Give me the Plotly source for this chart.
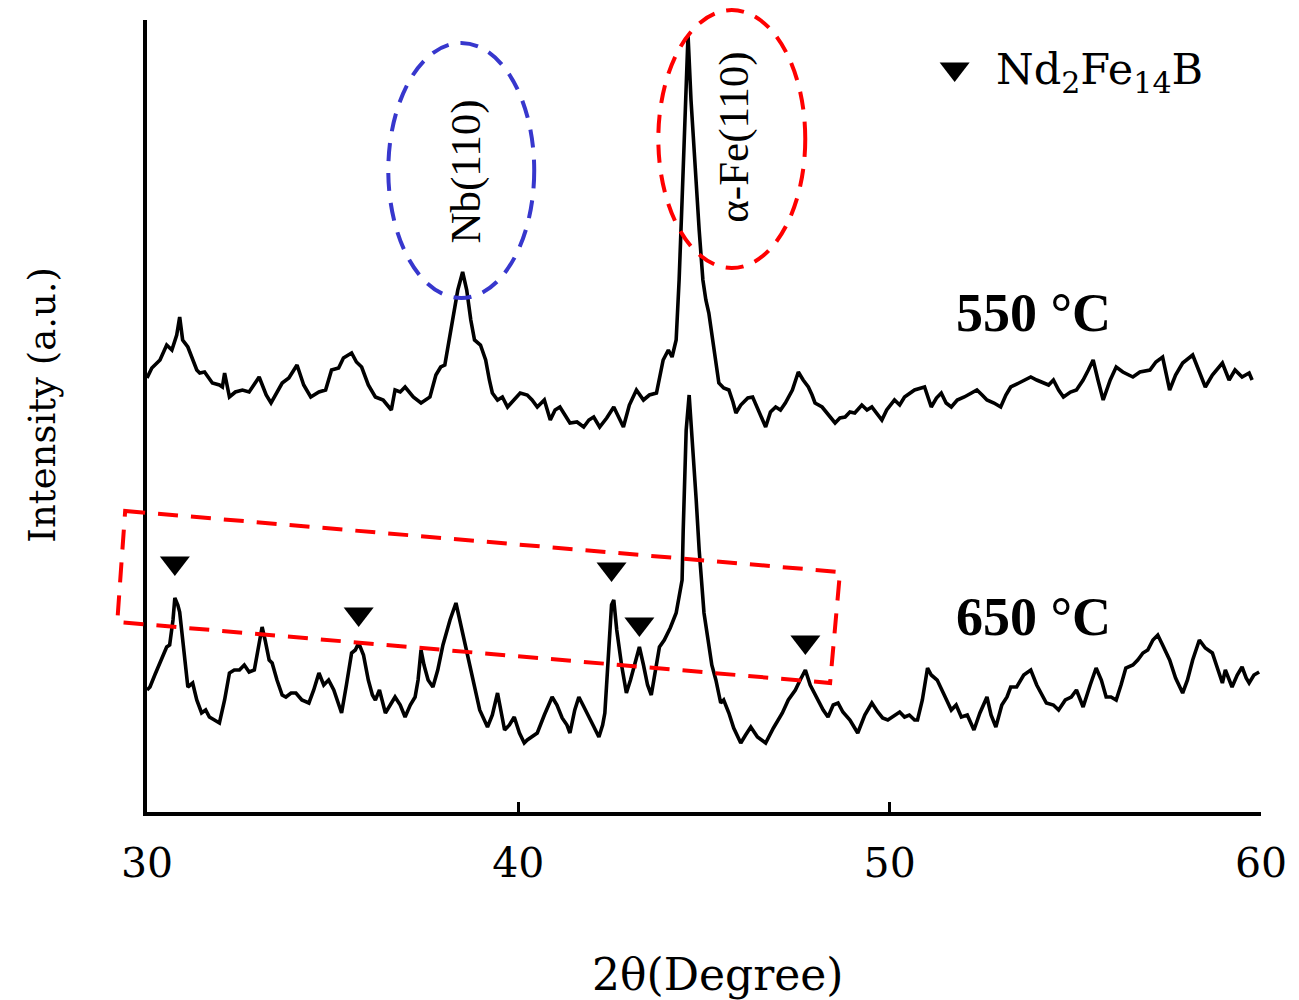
import plotly.graph_objects as go

# ---------------- data ----------------
two_theta_550 = [30.00, 30.13, 30.35, 30.53, 30.67, 30.80, 30.88, 30.96, 31.10, 31.23, 31.34, 31.42, 31.55, 31.76, 31.95,
                 32.03, 32.09, 32.22, 32.38, 32.57, 32.75, 33.02, 33.21, 33.34, 33.50, 33.64, 33.82, 34.04, 34.22, 34.41,
                 34.63, 34.81, 34.97, 35.16, 35.29, 35.51, 35.64, 35.78, 35.96, 36.15, 36.36, 36.58, 36.68, 36.82, 36.95,
                 37.17, 37.38, 37.62, 37.78, 37.91, 38.02, 38.10, 38.24, 38.37, 38.50, 38.61, 38.72, 38.82, 38.98, 39.12,
                 39.22, 39.30, 39.44, 39.57, 39.71, 39.89, 40.05, 40.24, 40.37, 40.51, 40.70, 40.86, 40.99, 41.12, 41.26,
                 41.39, 41.58, 41.76, 41.90, 42.03, 42.19, 42.38, 42.57, 42.70, 42.83, 42.99, 43.18, 43.37, 43.53, 43.72,
                 43.82, 43.90, 44.04, 44.14, 44.25, 44.33, 44.41, 44.49, 44.57, 44.65, 44.76, 44.87, 44.97, 45.05, 45.13,
                 45.24, 45.32, 45.40, 45.53, 45.67, 45.78, 45.86, 45.99, 46.18, 46.31, 46.47, 46.66, 46.79, 46.93, 47.06,
                 47.19, 47.38, 47.54, 47.67, 47.81, 47.91, 47.99, 48.18, 48.34, 48.53, 48.66, 48.80, 48.93, 49.06, 49.25,
                 49.39, 49.52, 49.65, 49.79, 49.92, 50.13, 50.27, 50.40, 50.67, 50.94, 51.12, 51.26, 51.39, 51.52, 51.66,
                 51.82, 52.01, 52.19, 52.35, 52.49, 52.62, 52.81, 52.99, 53.13, 53.26, 53.48, 53.80, 53.96, 54.14, 54.28,
                 54.41, 54.55, 54.68, 54.87, 55.03, 55.21, 55.35, 55.48, 55.61, 55.75, 55.94, 56.10, 56.28, 56.55, 56.74,
                 57.01, 57.17, 57.35, 57.54, 57.70, 57.89, 58.16, 58.32, 58.50, 58.69, 58.96, 59.14, 59.30, 59.49, 59.68,
                 59.76]
intensity_550 = [434, 444, 452, 467, 462, 477, 495, 472, 465, 452, 442, 439, 440, 429, 427,
                 425, 439, 415, 420, 422, 420, 435, 417, 409, 420, 429, 434, 447, 427, 415,
                 420, 422, 442, 444, 454, 459, 450, 445, 427, 415, 412, 402, 422, 420, 425,
                 415, 409, 415, 437, 445, 447, 465, 492, 522, 540, 522, 492, 472, 467, 452,
                 432, 419, 412, 415, 405, 412, 419, 417, 412, 405, 412, 392, 402, 405, 397,
                 389, 390, 385, 392, 395, 385, 394, 405, 394, 385, 407, 422, 412, 417, 419,
                 437, 452, 462, 455, 472, 532, 612, 702, 777, 712, 642, 582, 532, 512, 499,
                 472, 449, 429, 424, 422, 410, 399, 407, 414, 415, 402, 385, 400, 405, 402,
                 409, 422, 440, 432, 425, 417, 409, 405, 397, 389, 394, 395, 400, 399, 407,
                 402, 405, 399, 392, 402, 412, 407, 415, 422, 425, 405, 414, 419, 409, 405,
                 412, 415, 419, 422, 417, 412, 409, 405, 417, 425, 429, 435, 432, 429, 427,
                 432, 422, 415, 420, 422, 432, 442, 452, 432, 412, 432, 445, 440, 435, 440,
                 442, 450, 455, 422, 437, 449, 457, 442, 425, 437, 449, 432, 442, 435, 439,
                 432]

two_theta_650 = [30.00, 30.08, 30.21, 30.35, 30.53, 30.61, 30.70, 30.75, 30.83, 30.88, 30.99, 31.10, 31.23, 31.34, 31.47,
                 31.58, 31.68, 31.82, 31.95, 32.09, 32.22, 32.35, 32.49, 32.62, 32.75, 32.89, 33.02, 33.10, 33.18, 33.29,
                 33.37, 33.50, 33.64, 33.74, 33.88, 34.01, 34.17, 34.36, 34.49, 34.63, 34.76, 34.89, 35.03, 35.24, 35.37,
                 35.51, 35.61, 35.70, 35.83, 35.96, 36.07, 36.15, 36.26, 36.42, 36.55, 36.68, 36.82, 36.95, 37.09, 37.22,
                 37.30, 37.38, 37.46, 37.57, 37.70, 37.83, 37.97, 38.16, 38.32, 38.45, 38.64, 38.80, 38.96, 39.17, 39.30,
                 39.44, 39.52, 39.63, 39.76, 39.89, 40.03, 40.16, 40.24, 40.37, 40.51, 40.70, 40.91, 41.04, 41.18, 41.31,
                 41.39, 41.52, 41.63, 41.74, 41.84, 42.01, 42.17, 42.27, 42.33, 42.43, 42.51, 42.57, 42.65, 42.78, 42.91,
                 43.02, 43.16, 43.26, 43.37, 43.48, 43.58, 43.69, 43.80, 43.93, 44.09, 44.25, 44.33, 44.41, 44.44, 44.47,
                 44.52, 44.60, 44.65, 44.73, 44.79, 44.87, 44.95, 45.00, 45.11, 45.21, 45.32, 45.45, 45.53, 45.67, 45.80,
                 45.99, 46.12, 46.26, 46.44, 46.66, 46.87, 47.11, 47.27, 47.46, 47.59, 47.73, 47.86, 47.99, 48.07, 48.21,
                 48.34, 48.48, 48.61, 48.74, 48.93, 49.14, 49.33, 49.52, 49.68, 49.81, 49.95, 50.13, 50.27, 50.40, 50.53,
                 50.67, 50.75, 50.88, 51.02, 51.12, 51.28, 51.47, 51.66, 51.79, 51.93, 52.09, 52.27, 52.43, 52.62, 52.73,
                 52.86, 53.02, 53.16, 53.26, 53.42, 53.61, 53.80, 53.96, 54.09, 54.22, 54.41, 54.55, 54.73, 54.89, 55.03,
                 55.13, 55.21, 55.40, 55.56, 55.70, 55.83, 55.96, 56.10, 56.23, 56.36, 56.55, 56.68, 56.82, 56.95, 57.09,
                 57.22, 57.35, 57.54, 57.70, 57.89, 58.02, 58.16, 58.34, 58.50, 58.69, 58.82, 58.96, 59.04, 59.14, 59.22,
                 59.36, 59.49, 59.60, 59.68, 59.81, 59.95]
intensity_650 = [122, 125, 137, 150, 165, 167, 192, 214, 207, 200, 162, 125, 129, 112, 99,
                 102, 95, 92, 89, 112, 139, 142, 142, 147, 140, 142, 172, 185, 172, 152,
                 149, 132, 117, 115, 119, 119, 112, 109, 122, 139, 127, 132, 122, 99, 127,
                 159, 162, 169, 157, 132, 117, 112, 122, 99, 107, 115, 107, 95, 107, 115,
                 132, 162, 147, 132, 125, 142, 167, 192, 209, 187, 152, 127, 102, 85, 97,
                 119, 102, 82, 87, 95, 79, 69, 72, 75, 79, 97, 115, 107, 94, 87,
                 79, 102, 115, 107, 99, 87, 75, 87, 99, 152, 207, 212, 182, 147, 119,
                 132, 152, 165, 147, 127, 117, 140, 165, 172, 184, 199, 214, 232, 282, 332,
                 382, 417, 392, 342, 312, 262, 217, 199, 172, 147, 132, 109, 112, 99, 84,
                 69, 77, 85, 75, 69, 84, 99, 112, 122, 132, 142, 127, 117, 112, 102,
                 95, 107, 109, 100, 92, 79, 97, 109, 100, 94, 92, 97, 100, 95, 97,
                 92, 92, 112, 144, 137, 132, 117, 102, 107, 95, 97, 82, 99, 115, 97,
                 85, 107, 115, 125, 125, 137, 142, 127, 117, 109, 107, 102, 112, 115, 122,
                 112, 105, 127, 144, 132, 115, 115, 112, 127, 144, 147, 152, 159, 162, 172,
                 177, 167, 152, 134, 119, 132, 152, 172, 164, 159, 144, 129, 142, 132, 125,
                 137, 145, 134, 129, 137, 140]

nd_peak_2theta = [30.75, 35.70, 42.51, 43.26, 47.73]
nd_marker_intensity = [249, 198, 243, 188, 170]
legend_marker_2theta = [51.75]
legend_marker_intensity = [743]
x_tick_values = [30, 40, 50, 60]
x_tick_labels = ["30", "40", "50", "60"]

TIMES = "Liberation Serif"
SLAB = "DejaVu Serif"

fig = go.Figure()
fig.add_trace(go.Scatter(x=two_theta_550, y=intensity_550, mode="lines",
                         line=dict(color="black", width=3.6), name="550 °C", showlegend=False))
fig.add_trace(go.Scatter(x=two_theta_650, y=intensity_650, mode="lines",
                         line=dict(color="black", width=3.6), name="650 °C", showlegend=False))
fig.add_trace(go.Scatter(x=nd_peak_2theta, y=nd_marker_intensity, mode="markers",
                         marker=dict(symbol="triangle-down", size=26, color="black"),
                         showlegend=False, cliponaxis=False))
fig.add_trace(go.Scatter(x=legend_marker_2theta, y=legend_marker_intensity, mode="markers",
                         marker=dict(symbol="triangle-down", size=26, color="black"),
                         showlegend=False, cliponaxis=False))

# dashed highlight shapes (axis-domain fractions so they are not clipped)
fig.add_shape(type="circle", xref="x domain", yref="y domain",
              x0=0.2166, x1=0.3476, y0=0.6490, y1=0.9710,
              line=dict(color="rgb(55,55,205)", width=4, dash="18px,12px"))
fig.add_shape(type="circle", xref="x domain", yref="y domain",
              x0=0.4590, x1=0.5909, y0=0.6869, y1=1.0126,
              line=dict(color="rgb(255,0,0)", width=4, dash="18px,12px"))
fig.add_shape(type="path", xref="x domain", yref="y domain",
              path="M -0.0196 0.3801 L 0.6221 0.3030 L 0.6132 0.1629 L -0.0267 0.2399 Z",
              line=dict(color="rgb(255,0,0)", width=4, dash="20px,13px"))

# text annotations
fig.add_annotation(x=38.58, y=640, text="Nb(110)", textangle=-90, showarrow=False,
                   xanchor="center", yanchor="middle",
                   font=dict(family=TIMES, size=43, color="black"))
fig.add_annotation(x=45.80, y=675, text="α-Fe(110)", textangle=-90, showarrow=False,
                   xanchor="center", yanchor="middle",
                   font=dict(family=TIMES, size=43, color="black"))
fig.add_annotation(x=53.88, y=499, text="<b>550 °C</b>", showarrow=False,
                   xanchor="center", yanchor="middle",
                   font=dict(family=TIMES, size=54, color="black"))
fig.add_annotation(x=53.88, y=195, text="<b>650 °C</b>", showarrow=False,
                   xanchor="center", yanchor="middle",
                   font=dict(family=TIMES, size=54, color="black"))
fig.add_annotation(x=52.8, y=740, text="Nd<sub>2</sub>Fe<sub>14</sub>B", showarrow=False,
                   xanchor="left", yanchor="middle",
                   font=dict(family=SLAB, size=43, color="black"))
fig.add_annotation(xref="paper", yref="paper", x=-0.0936, y=0.514, text="Intensity (a.u.)",
                   textangle=-90, showarrow=False, xanchor="center", yanchor="middle",
                   font=dict(family=SLAB, size=37, color="black"))
fig.add_annotation(xref="paper", yref="paper", x=0.512, y=-0.2058, text="2θ(Degree)",
                   showarrow=False, xanchor="center", yanchor="middle",
                   font=dict(family=SLAB, size=44, color="black"))

fig.update_xaxes(range=[30, 60], tickvals=x_tick_values, ticktext=x_tick_labels,
                 showline=True, linewidth=4, linecolor="black", ticks="inside",
                 ticklen=10, tickwidth=3, tickcolor="black", ticklabelstandoff=12,
                 tickfont=dict(family=SLAB, size=41, color="black"),
                 showgrid=False, zeroline=False)
fig.update_yaxes(range=[0, 792], showline=True, linewidth=4, linecolor="black",
                 ticks="", showticklabels=False, showgrid=False, zeroline=False)

fig.update_layout(width=1299, height=1000, margin=dict(l=147, r=30, t=20, b=188),
                  plot_bgcolor="white", paper_bgcolor="white",
                  font=dict(family=TIMES, color="black"))

fig.write_html("out.html", config={"displayModeBar": False},
               post_script="document.body.style.margin='0';document.body.style.overflow='hidden';")
